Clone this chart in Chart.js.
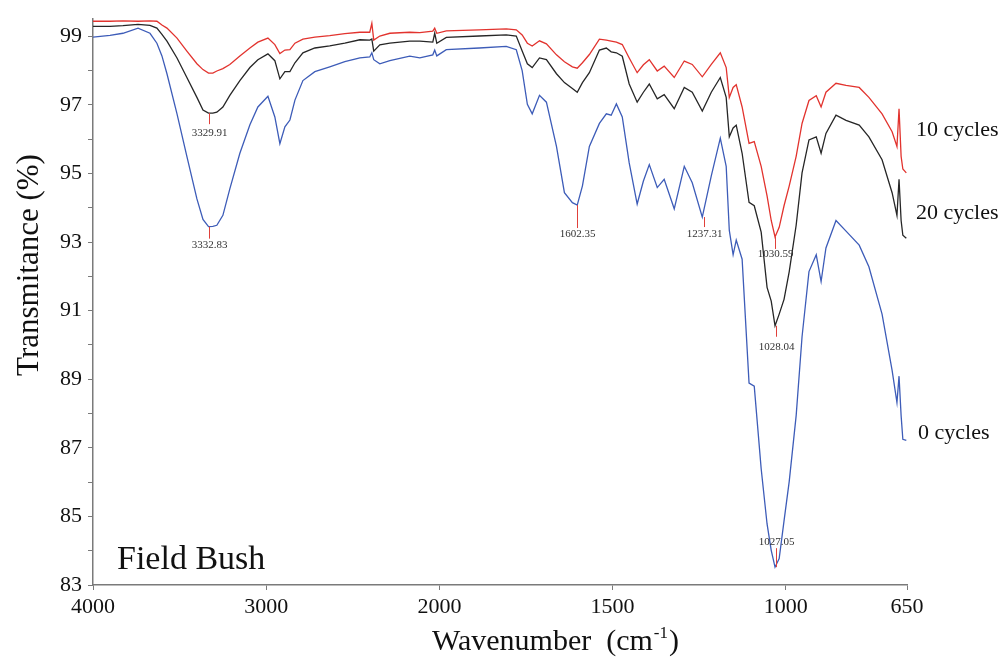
<!DOCTYPE html>
<html>
<head>
<meta charset="utf-8">
<script src="https://cdn.jsdelivr.net/npm/chart.js@4.4.1/dist/chart.umd.min.js"></script>
<style>
  html, body { margin: 0; padding: 0; background: #fff; }
  canvas { display: block; }
</style>
</head>
<body>
<canvas id="ftir" width="1005" height="661"></canvas>
<script>
// wavenumbers (cm-1), shared by the three spectra
const wavenumbers = [4000, 3902, 3827, 3740, 3671, 3631, 3602, 3573, 3515, 3458,
  3400, 3365, 3333, 3308, 3285, 3250, 3210, 3152, 3094, 3048,
  2990, 2950, 2921, 2892, 2863, 2834, 2788, 2719, 2633, 2546,
  2459, 2402, 2390, 2379, 2344, 2286, 2171, 2113, 2038, 2027,
  2015, 1980, 1885, 1807, 1778, 1761, 1746, 1732, 1711, 1691,
  1662, 1639, 1616, 1602, 1587, 1567, 1538, 1518, 1504, 1489,
  1472, 1452, 1429, 1411, 1394, 1371, 1351, 1322, 1293, 1270,
  1241, 1215, 1189, 1172, 1163, 1152, 1143, 1126, 1106, 1091,
  1071, 1054, 1042, 1031, 1019, 1005, 990, 970, 953, 933,
  912, 898, 884, 855, 826, 788, 760, 722, 693, 679,
  673, 667, 662, 652];

// transmittance (%)
const t10Cycles = [99.44, 99.44, 99.45, 99.44, 99.45, 99.44, 99.33, 99.24, 98.95, 98.57,
  98.20, 98.03, 97.93, 97.93, 97.99, 98.06, 98.18, 98.43, 98.66, 98.83,
  98.95, 98.76, 98.50, 98.60, 98.61, 98.80, 98.92, 98.98, 99.02, 99.08,
  99.12, 99.12, 99.38, 98.89, 99.01, 99.09, 99.12, 99.11, 99.15, 99.24,
  99.09, 99.16, 99.19, 99.22, 99.19, 99.04, 98.80, 98.72, 98.87, 98.78,
  98.46, 98.26, 98.11, 98.07, 98.23, 98.47, 98.92, 98.89, 98.86, 98.83,
  98.76, 98.37, 97.94, 98.17, 98.32, 97.99, 98.13, 97.80, 98.28, 98.18,
  97.82, 98.18, 98.52, 98.09, 97.22, 97.51, 97.59, 96.94, 95.88, 95.93,
  95.21, 94.35, 93.63, 93.15, 93.43, 94.06, 94.64, 95.50, 96.46, 97.13,
  97.27, 96.94, 97.37, 97.63, 97.57, 97.51, 97.22, 96.74, 96.22, 95.79,
  96.89, 95.50, 95.13, 95.02];

const t20Cycles = [99.29, 99.29, 99.31, 99.35, 99.32, 99.24, 99.06, 98.86, 98.37, 97.80,
  97.22, 96.85, 96.76, 96.76, 96.79, 96.94, 97.28, 97.71, 98.09, 98.32,
  98.49, 98.29, 97.76, 97.97, 97.97, 98.23, 98.52, 98.66, 98.72, 98.80,
  98.90, 98.89, 98.92, 98.57, 98.75, 98.80, 98.86, 98.86, 98.83, 99.09,
  98.80, 98.97, 99.01, 99.04, 99.01, 98.57, 98.20, 98.09, 98.37, 98.32,
  97.91, 97.65, 97.48, 97.37, 97.65, 97.94, 98.60, 98.66, 98.55, 98.52,
  98.42, 97.61, 97.08, 97.37, 97.61, 97.18, 97.30, 96.89, 97.51, 97.37,
  96.82, 97.37, 97.80, 97.22, 96.07, 96.33, 96.41, 95.59, 94.16, 94.06,
  93.29, 91.68, 91.28, 90.56, 90.90, 91.33, 92.14, 93.49, 95.02, 95.98,
  96.07, 95.59, 96.17, 96.70, 96.55, 96.41, 96.07, 95.40, 94.44, 93.78,
  94.83, 93.63, 93.20, 93.11];

const t0Cycles = [98.98, 99.03, 99.09, 99.24, 99.09, 98.80, 98.43, 97.91, 96.74, 95.50,
  94.26, 93.66, 93.45, 93.46, 93.49, 93.78, 94.55, 95.59, 96.42, 96.94,
  97.25, 96.65, 95.87, 96.36, 96.56, 97.14, 97.71, 97.97, 98.11, 98.26,
  98.37, 98.40, 98.52, 98.32, 98.20, 98.29, 98.42, 98.37, 98.46, 98.60,
  98.43, 98.61, 98.66, 98.71, 98.61, 98.00, 97.02, 96.74, 97.28, 97.08,
  95.79, 94.44, 94.15, 94.08, 94.64, 95.79, 96.46, 96.74, 96.70, 97.03,
  96.65, 95.31, 94.11, 94.78, 95.26, 94.59, 94.83, 93.97, 95.21, 94.73,
  93.73, 94.93, 96.03, 95.21, 93.34, 92.63, 93.06, 92.50, 88.89, 88.80,
  86.39, 84.78, 84.01, 83.52, 83.77, 84.87, 86.02, 87.94, 90.24, 92.14,
  92.63, 91.85, 92.83, 93.63, 93.32, 92.91, 92.28, 90.90, 89.26, 88.32,
  89.09, 87.94, 87.25, 87.22];

const xTickLabels = [4000, 3000, 2000, 1500, 1000, 650];
const yTickValues = [83, 84, 85, 86, 87, 88, 89, 90, 91, 92, 93, 94, 95, 96, 97, 98, 99];

// marked band minima
const peakLabels = ['3329.91', '3332.83', '1602.35', '1237.31', '1030.59', '1028.04', '1027.05'];
const peakWn = [3329.91, 3332.83, 1602.35, 1237.31, 1030.59, 1028.04, 1027.05];
const peakT = [96.76, 93.45, 94.08, 93.73, 93.15, 90.56, 83.52];

// axis is split: 4000-2000 at one scale, 2000-650 at double scale
function toAxis(w){ return w >= 2000 ? (4000 - w) / 1000 : 2 + (2000 - w) / 500; }

const serif = "'Liberation Serif', 'Times New Roman', serif";

function series(vals){ return wavenumbers.map((w, i) => ({ x: toAxis(w), y: vals[i] })); }

const textPlugin = {
  id: 'ftirText',
  afterDraw(chart){
    const ctx = chart.ctx;
    const xs = chart.scales.x, ys = chart.scales.y;
    ctx.save();

    // peak marks
    const lineLen = [11, 12, 23, 10, 12, 11, -19];
    const textOff = [20, 18, 29, 17, 17, 21, -25];
    ctx.font = '11px ' + serif;
    ctx.textAlign = 'center';
    ctx.textBaseline = 'middle';
    peakWn.forEach((w, i) => {
      const px = Math.round(xs.getPixelForValue(toAxis(w))) + 0.5;
      const py = ys.getPixelForValue(peakT[i]);
      ctx.strokeStyle = '#e0403a';
      ctx.lineWidth = 1;
      ctx.beginPath();
      ctx.moveTo(px, py);
      ctx.lineTo(px, py + lineLen[i]);
      ctx.stroke();
      ctx.fillStyle = '#333';
      ctx.fillText(peakLabels[i], px, py + textOff[i]);
    });

    // series labels
    ctx.fillStyle = '#111';
    ctx.font = '22px ' + serif;
    ctx.textAlign = 'left';
    ctx.fillText('10 cycles', 916, 130);
    ctx.fillText('20 cycles', 916, 213);
    ctx.fillText('0 cycles', 918, 433);

    // sample name
    ctx.font = '34px ' + serif;
    ctx.textBaseline = 'alphabetic';
    ctx.fillText('Field Bush', 117, 569);

    // x title with superscript
    ctx.font = '30px ' + serif;
    let x = 432;
    const base = 650;
    const a = 'Wavenumber  (cm';
    ctx.fillText(a, x, base);
    x += ctx.measureText(a).width + 1;
    ctx.font = '17px ' + serif;
    ctx.fillText('-1', x, base - 12);
    x += ctx.measureText('-1').width + 1;
    ctx.font = '30px ' + serif;
    ctx.fillText(')', x, base);

    // y title
    ctx.translate(30, 265);
    ctx.rotate(-Math.PI / 2);
    ctx.textAlign = 'center';
    ctx.textBaseline = 'middle';
    ctx.font = '31px ' + serif;
    ctx.fillText('Transmitance (%)', 0, 0);
    ctx.restore();
  }
};

const lineOpts = { borderWidth: 1.3, pointRadius: 0, tension: 0, fill: false };

new Chart(document.getElementById('ftir'), {
  type: 'line',
  data: {
    datasets: [
      Object.assign({ label: '0 cycles', data: series(t0Cycles), borderColor: '#3d5cb8' }, lineOpts),
      Object.assign({ label: '20 cycles', data: series(t20Cycles), borderColor: '#262626' }, lineOpts),
      Object.assign({ label: '10 cycles', data: series(t10Cycles), borderColor: '#e2332e' }, lineOpts)
    ]
  },
  options: {
    responsive: false,
    animation: false,
    layout: { padding: { left: 0, right: 98, top: 11, bottom: 0 } },
    plugins: { legend: { display: false }, tooltip: { enabled: false } },
    scales: {
      x: {
        type: 'linear',
        min: 0,
        max: toAxis(650),
        afterFit: s => { s.height = 76; },
        afterBuildTicks: s => { s.ticks = xTickLabels.map(w => ({ value: toAxis(w) })); },
        border: { color: '#7a7a7a', width: 1.5 },
        grid: { drawOnChartArea: false, tickLength: 5, color: '#7a7a7a' },
        ticks: {
          autoSkip: false, maxRotation: 0, padding: 4, color: '#111',
          font: { family: serif, size: 22 },
          callback: (v, i) => xTickLabels[i]
        }
      },
      y: {
        min: 83,
        max: 99.5,
        afterFit: s => { s.width = 93; },
        afterBuildTicks: s => { s.ticks = yTickValues.map(v => ({ value: v })); },
        border: { color: '#7a7a7a', width: 1.5 },
        grid: { drawOnChartArea: false, tickLength: 5, color: '#7a7a7a' },
        ticks: {
          padding: 6, color: '#111',
          font: { family: serif, size: 22 },
          callback: v => (v % 2 === 1 ? String(v) : '')
        }
      }
    }
  },
  plugins: [textPlugin]
});
</script>
</body>
</html>
